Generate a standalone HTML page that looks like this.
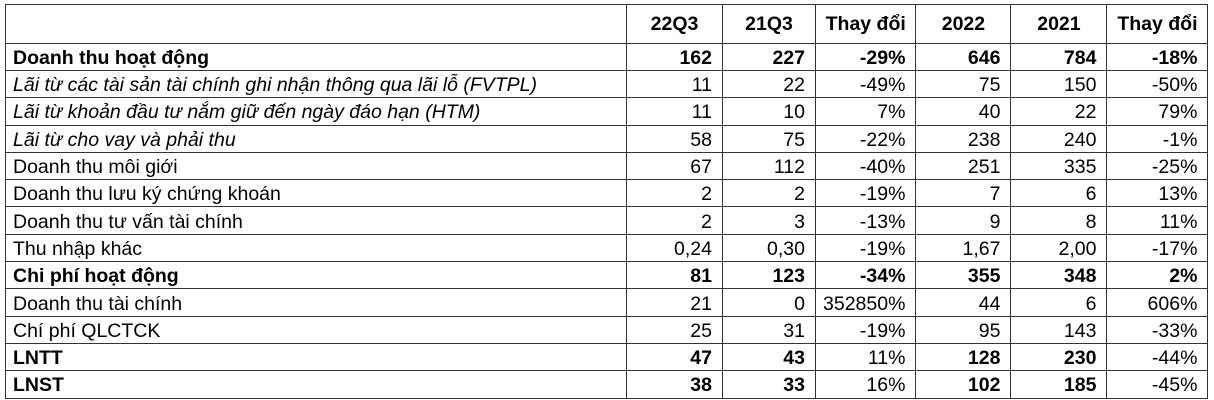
<!DOCTYPE html>
<html><head><meta charset="utf-8"><style>
body{margin:0;background:#fff;width:1214px;height:400px;overflow:hidden}
table{position:absolute;left:5px;top:4px;border-collapse:collapse;font-family:"Liberation Sans",sans-serif;font-size:19.5px;color:#000;table-layout:fixed}
td{border:1px solid #333;height:24.3px;padding:2px 10px 0 7px;text-align:right;white-space:nowrap;line-height:22px;box-sizing:content-box}
td:first-child{text-align:left}
tr.h td{height:37.7px;font-weight:bold;text-align:center;padding:0}
tr.b td{font-weight:bold}
tr.i td:first-child{font-style:italic}
</style></head><body>
<table>
<colgroup><col style="width:621px"><col style="width:96px"><col style="width:93px"><col style="width:97px"><col style="width:95px"><col style="width:96px"><col style="width:101px"></colgroup>
<tr class="h"><td></td><td>22Q3</td><td>21Q3</td><td>Thay đổi</td><td>2022</td><td>2021</td><td>Thay đổi</td></tr>
<tr class="b"><td>Doanh thu hoạt động</td><td>162</td><td>227</td><td>-29%</td><td>646</td><td>784</td><td>-18%</td></tr>
<tr class="i"><td>Lãi từ các tài sản tài chính ghi nhận thông qua lãi lỗ (FVTPL)</td><td>11</td><td>22</td><td>-49%</td><td>75</td><td>150</td><td>-50%</td></tr>
<tr class="i"><td>Lãi từ khoản đầu tư nắm giữ đến ngày đáo hạn (HTM)</td><td>11</td><td>10</td><td>7%</td><td>40</td><td>22</td><td>79%</td></tr>
<tr class="i"><td>Lãi từ cho vay và phải thu</td><td>58</td><td>75</td><td>-22%</td><td>238</td><td>240</td><td>-1%</td></tr>
<tr><td>Doanh thu môi giới</td><td>67</td><td>112</td><td>-40%</td><td>251</td><td>335</td><td>-25%</td></tr>
<tr><td>Doanh thu lưu ký chứng khoán</td><td>2</td><td>2</td><td>-19%</td><td>7</td><td>6</td><td>13%</td></tr>
<tr><td>Doanh thu tư vấn tài chính</td><td>2</td><td>3</td><td>-13%</td><td>9</td><td>8</td><td>11%</td></tr>
<tr><td>Thu nhập khác</td><td>0,24</td><td>0,30</td><td>-19%</td><td>1,67</td><td>2,00</td><td>-17%</td></tr>
<tr class="b"><td>Chi phí hoạt động</td><td>81</td><td>123</td><td>-34%</td><td>355</td><td>348</td><td>2%</td></tr>
<tr><td>Doanh thu tài chính</td><td>21</td><td>0</td><td>352850%</td><td>44</td><td>6</td><td>606%</td></tr>
<tr><td>Chí phí QLCTCK</td><td>25</td><td>31</td><td>-19%</td><td>95</td><td>143</td><td>-33%</td></tr>
<tr><td><b>LNTT</b></td><td><b>47</b></td><td><b>43</b></td><td>11%</td><td><b>128</b></td><td><b>230</b></td><td>-44%</td></tr>
<tr><td><b>LNST</b></td><td><b>38</b></td><td><b>33</b></td><td>16%</td><td><b>102</b></td><td><b>185</b></td><td>-45%</td></tr>
</table>
</body></html>
